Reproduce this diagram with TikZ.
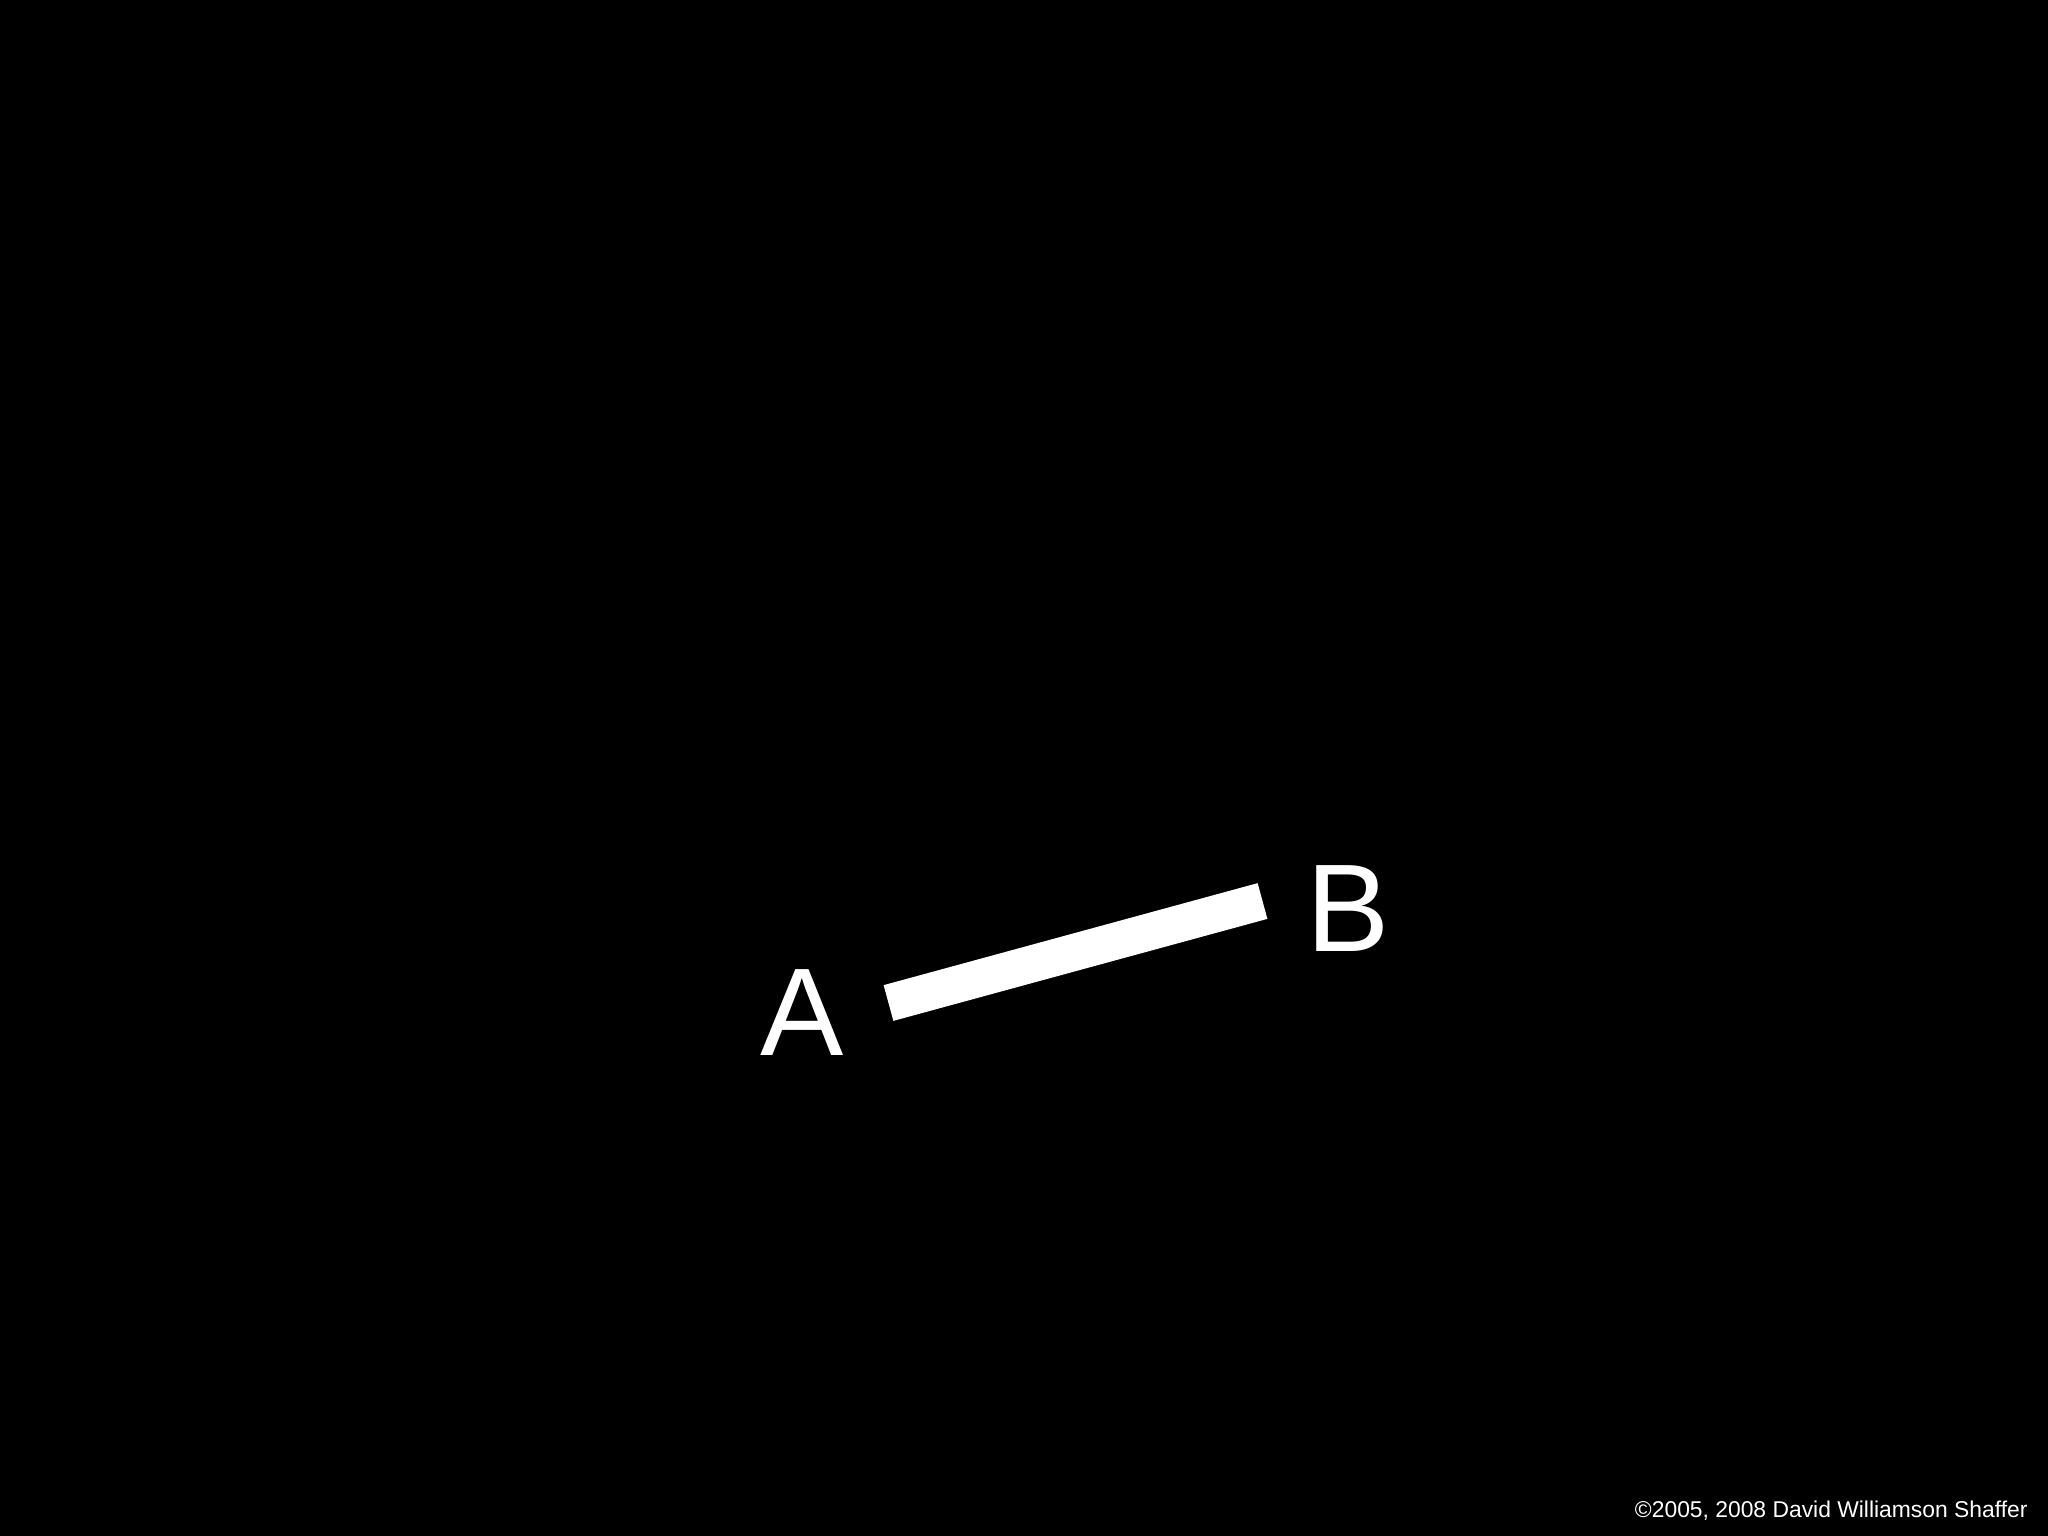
\documentclass[tikz,border=0pt]{standalone}
\usepackage{fontspec}
\setmainfont{Liberation Sans}

\begin{document}
\begin{tikzpicture}[x=0.01cm, y=-0.01cm, line width=0.37cm]
  % Parameters
  \def\W{2048}  % Slide width
  \def\H{1536}  % Slide height
  % Background
  \fill[black] (0, 0) rectangle (\W, \H);
  % Labels
  \node[white, anchor=base, font=\fontsize{35.5}{40}\selectfont, inner sep=0] (A) at (802, 1055) {A};
  \node[white, anchor=base, font=\fontsize{35.5}{40}\selectfont, inner sep=0] (B) at (1348, 951) {B};
  % Bar ends
  \coordinate (barA) at (888.5, 1003);
  \coordinate (barB) at (1262.5, 901);
  % Bar
  \draw[white, line cap=butt] (barA) -- (barB);
  % Copyright
  \node[white, anchor=base east, font=\fontsize{6.5}{8}\selectfont, inner sep=0] (copy) at (2046, 1517) {\textcopyright2005, 2008 David Williamson Shaffer};
\end{tikzpicture}
\end{document}
